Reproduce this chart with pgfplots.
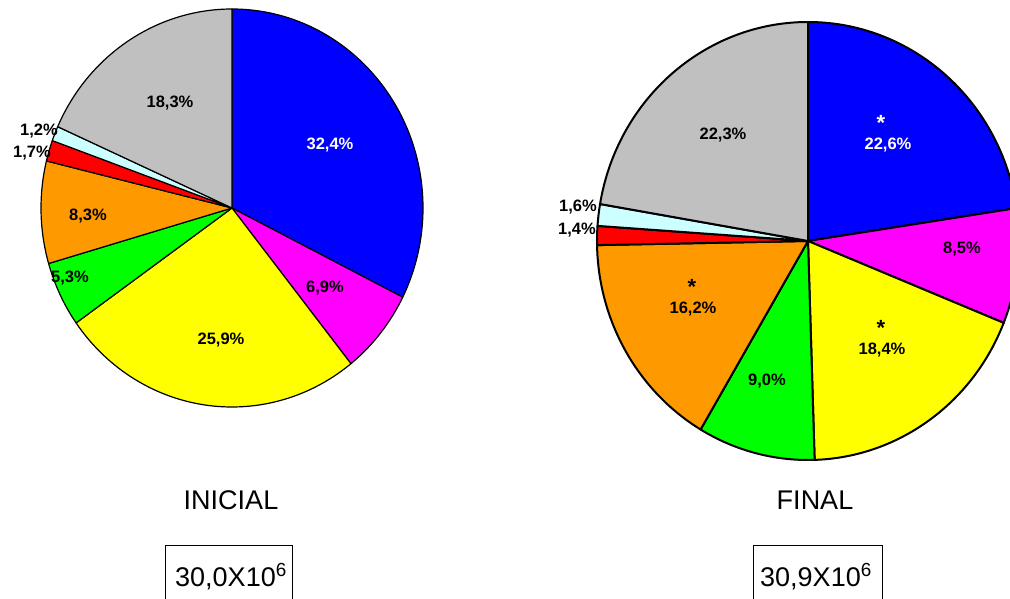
\documentclass[border=0pt]{standalone}
\usepackage{pgfplots}
\pgfplotsset{compat=1.18}
\usepackage{pgfplotstable}
\usepackage{fontspec}
\setmainfont{Liberation Sans}

\definecolor{pBlue}{HTML}{0000FF}
\definecolor{pMag}{HTML}{FF00FF}
\definecolor{pYel}{HTML}{FFFF00}
\definecolor{pGrn}{HTML}{00FF00}
\definecolor{pOra}{HTML}{FF9900}
\definecolor{pRed}{HTML}{FF0000}
\definecolor{pCya}{HTML}{CCFFFF}
\definecolor{pGry}{HTML}{C0C0C0}

% value, fill, label position (picture px, y down), label colour, asterisk colour, asterisk x
\pgfplotstableread{
val  col   lx  ly  tc    sc    sx
32.4 pBlue 330 145 white none  0
6.9  pMag  325 288 black none  0
25.9 pYel  221 340 black none  0
5.3  pGrn  70  278 black none  0
8.3  pOra  88  216 black none  0
1.7  pRed  32  153 black none  0
1.2  pCya  39  131 black none  0
18.3 pGry  170 103 black none  0
}\inicial

\pgfplotstableread{
val  col   lx  ly  tc    sc    sx
22.6 pBlue 888 145 white white 881
8.5  pMag  962 249 black none  0
18.4 pYel  882 350 black black 881
9.0  pGrn  767 381 black none  0
16.2 pOra  693 309 black black 692
1.4  pRed  577 230 black none  0
1.6  pCya  578 207 black none  0
22.3 pGry  723 135 black none  0
}\final

% #1 table, #2 centre x, #3 centre y (px, y down), #4 x radius, #5 y radius, #6 line width
\newcommand\drawpie[6]{%
  \pgfplotstablegetrowsof{#1}\pgfmathtruncatemacro\nrows{\pgfplotsretval-1}%
  \xdef\curang{90}%
  \pgfmathsetmacro\cy{598-#3}%
  \foreach \i in {0,...,\nrows}{%
    \pgfplotstablegetelem{\i}{val}\of{#1}\let\v\pgfplotsretval
    \pgfplotstablegetelem{\i}{col}\of{#1}\let\c\pgfplotsretval
    \pgfmathsetmacro\endang{\curang-3.6*\v}%
    \pgfmathsetmacro\dx{#4*cos(\curang)}%
    \pgfmathsetmacro\dy{#5*sin(\curang)}%
    \edef\tmp{\noexpand\filldraw[fill=\c, draw=black, line width=#6, line join=round]
      (axis cs:#2,\cy) -- ++(\dx pt,\dy pt)
      arc[start angle=\curang, end angle=\endang, x radius=#4pt, y radius=#5pt] -- cycle;}%
    \tmp
    \xdef\curang{\endang}%
  }%
  \foreach \i in {0,...,\nrows}{%
    \pgfplotstablegetelem{\i}{val}\of{#1}\let\v\pgfplotsretval
    \pgfplotstablegetelem{\i}{lx}\of{#1}\let\lx\pgfplotsretval
    \pgfplotstablegetelem{\i}{ly}\of{#1}\pgfmathsetmacro\ly{598-\pgfplotsretval}%
    \pgfplotstablegetelem{\i}{tc}\of{#1}\let\tc\pgfplotsretval
    \pgfplotstablegetelem{\i}{sc}\of{#1}\let\sc\pgfplotsretval
    \pgfplotstablegetelem{\i}{sx}\of{#1}\let\sx\pgfplotsretval
    \edef\tmp{\noexpand\node[text=\tc, inner sep=1pt, font=\noexpand\bfseries\noexpand\fontsize{16.5}{18}\noexpand\selectfont]
      at (axis cs:\lx,\ly) {\noexpand\pgfmathprintnumber[fixed, fixed zerofill, precision=1, use comma, assume math mode=true]{\v}\noexpand\%};}%
    \tmp
    \ifx\sc\noneword\else
      \pgfmathsetmacro\sy{\ly+22}%
      \edef\tmp{\noexpand\node[text=\sc, inner sep=0pt, font=\noexpand\bfseries\noexpand\fontsize{22}{24}\noexpand\selectfont]
        at (axis cs:\sx,\sy) {*};}%
      \tmp
    \fi
  }%
}
\def\noneword{none}

\begin{document}
\begin{tikzpicture}
\begin{axis}[
  x=1pt, y=1pt,
  xmin=0, xmax=1010, ymin=0, ymax=598,
  hide axis, clip=false,
]
\coordinate (SW) at (axis cs:0,0);
\coordinate (NE) at (axis cs:1010,598);

\drawpie{\inicial}{232}{208}{191}{199}{1.2pt}
\drawpie{\final}{808}{241}{211}{219}{2pt}

\node[font=\fontsize{27}{30}\selectfont] at (axis cs:231,98) {INICIAL};
\node[font=\fontsize{27}{30}\selectfont] at (axis cs:815,98) {FINAL};

\draw[line width=1pt] (axis cs:165,-20) rectangle (axis cs:292,53);
\draw[line width=1pt] (axis cs:753,-20) rectangle (axis cs:882,53);
\node[anchor=base, font=\fontsize{27}{30}\selectfont] at (axis cs:231,12) {30,0X10\textsuperscript{6}};
\node[anchor=base, font=\fontsize{27}{30}\selectfont] at (axis cs:816,12) {30,9X10\textsuperscript{6}};
\end{axis}
\pgfresetboundingbox
\path[use as bounding box] (SW) rectangle (NE);
\end{tikzpicture}
\end{document}
